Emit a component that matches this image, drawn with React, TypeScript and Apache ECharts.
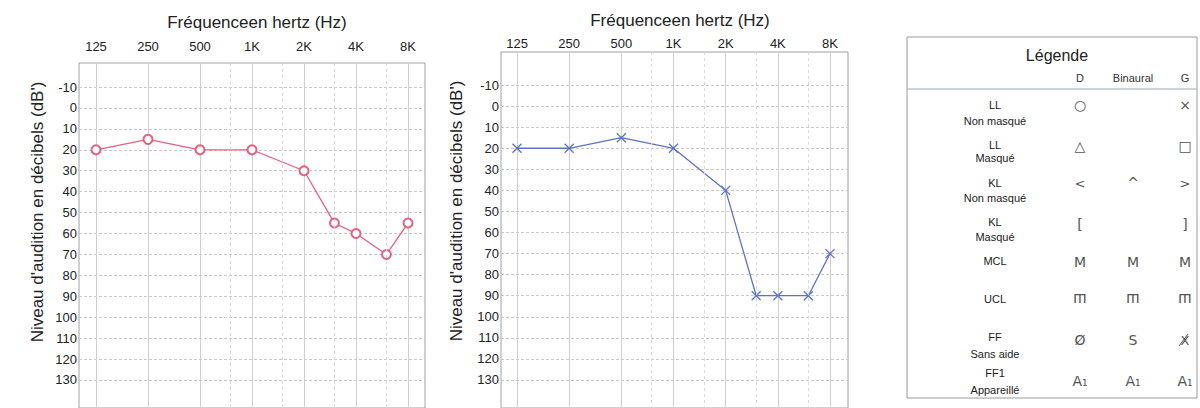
import React, { useEffect, useRef } from "react";
import * as echarts from "echarts";

// ---- data ----
const frequencies = [125, 250, 500, 1000, 2000, 3000, 4000, 6000, 8000];
const rightEarDb = [20, 15, 20, 20, 30, 55, 60, 70, 55];
const leftEarDb = [20, 20, 15, 20, 40, 90, 90, 90, 70];
const octaveFreqs = [125, 250, 500, 1000, 2000, 4000, 8000];
const octaveLabels = ["125", "250", "500", "1K", "2K", "4K", "8K"];
const midOctaveFreqs = [750, 1500, 3000, 6000];
const dbTicks = [-10, 0, 10, 20, 30, 40, 50, 60, 70, 80, 90, 100, 110, 120, 130];
const xTitle = "Fréquenceen hertz (Hz)";
const yTitle = "Niveau d'audition en décibels (dB')";
const legendTitle = "Légende";
const legendHeaders = ["D", "Binaural", "G"];
const legendRows = [
  ["LL", "Non masqué"],
  ["LL", "Masqué"],
  ["KL", "Non masqué"],
  ["KL", "Masqué"],
  ["MCL"],
  ["UCL"],
  ["FF", "Sans aide"],
  ["FF1", "Appareillé"],
];
const legendSymbols = [
  ["○", "", "×"],
  ["△", "", "□"],
  ["<", "^", ">"],
  ["[", "", "]"],
  ["M", "M", "M"],
  ["ш", "ш", "ш"],
  ["Ø", "S", "X/"],
  ["A₁", "A₁", "A₁"],
];

const FONT = "'Liberation Sans', Arial, sans-serif";
const oct = (f: number) => Math.log2(f / 125);

export default function App() {
  const ref = useRef<HTMLDivElement>(null);
  useEffect(() => {
    if (!ref.current) return;
    const chart = echarts.init(ref.current, undefined, { renderer: "svg" });

    const grids = [
      { left: 79, top: 63, width: 346, height: 345, xmin: -0.327, xmax: 6.327, ymin: -21.5, ymax: 143.4, labelMargin: 10 },
      { left: 501, top: 52, width: 347, height: 356, xmin: -0.307, xmax: 6.345, ymin: -25.7, ymax: 143.3, labelMargin: 2 },
    ];

    const xAxes = grids.map((g, i) => ({
      type: "value",
      gridIndex: i,
      position: "top",
      min: g.xmin,
      max: g.xmax,
      axisLine: { show: false },
      axisTick: { show: false, customValues: octaveFreqs.map(oct) },
      axisLabel: {
        customValues: octaveFreqs.map(oct),
        margin: g.labelMargin,
        fontSize: 13,
        color: "#222",
        fontFamily: FONT,
        formatter: (v: number) => octaveLabels[Math.round(v)],
      },
      splitLine: { show: true, lineStyle: { color: "#d3cdcd", width: 1 } },
    }));

    const yAxes = grids.map((g, i) => ({
      type: "value",
      gridIndex: i,
      inverse: true,
      min: g.ymin,
      max: g.ymax,
      axisLine: { show: false },
      axisTick: { show: false, customValues: dbTicks },
      axisLabel: {
        customValues: dbTicks,
        margin: 2,
        fontSize: 13,
        color: "#222",
        fontFamily: FONT,
      },
      splitLine: { show: true, lineStyle: { color: "#d2c4c4", width: 1, type: [3, 2] } },
    }));

    const midLines = {
      silent: true,
      symbol: ["none", "none"],
      label: { show: false },
      lineStyle: { color: "#dcd6d6", type: [3, 3], width: 1 },
      data: midOctaveFreqs.map((f) => ({ xAxis: oct(f) })),
    };

    const series = [
      {
        type: "line",
        xAxisIndex: 0,
        yAxisIndex: 0,
        data: frequencies.map((f, i) => [oct(f), rightEarDb[i]]),
        symbol: "emptyCircle",
        symbolSize: 9,
        lineStyle: { color: "#e4627e", width: 1.3 },
        itemStyle: { color: "#e4627e", borderWidth: 1.2 },
        markLine: midLines,
      },
      {
        type: "line",
        xAxisIndex: 1,
        yAxisIndex: 1,
        data: frequencies.map((f, i) => [oct(f), leftEarDb[i]]),
        symbol: "path://M0,0L10,10M10,0L0,10",
        symbolSize: 9,
        lineStyle: { color: "#5b74c9", width: 1.3 },
        itemStyle: { color: "#5b74c9", borderColor: "#5b74c9", borderWidth: 1.3 },
        markLine: midLines,
      },
    ];

    const graphic: any[] = [];
    const titlePos = [
      { x: 257, y: 22 },
      { x: 680, y: 20 },
    ];
    titlePos.forEach((p) =>
      graphic.push({
        type: "text",
        x: p.x,
        y: p.y,
        style: { text: xTitle, font: `17px ${FONT}`, fill: "#222", align: "center", verticalAlign: "middle" },
      })
    );
    const yTitlePos = [
      { x: 37, y: 212 },
      { x: 456, y: 211 },
    ];
    yTitlePos.forEach((p) =>
      graphic.push({
        type: "text",
        x: p.x,
        y: p.y,
        rotation: Math.PI / 2,
        style: { text: yTitle, font: `17px ${FONT}`, fill: "#222", align: "center", verticalAlign: "middle" },
      })
    );

    // legend box
    graphic.push({
      type: "rect",
      shape: { x: 907, y: 37, width: 290, height: 361 },
      style: { fill: "#fff", stroke: "#9a9a9a", lineWidth: 1 },
    });
    graphic.push({
      type: "line",
      shape: { x1: 907, y1: 89, x2: 1197, y2: 89 },
      style: { stroke: "#9aa8b4", lineWidth: 1 },
    });
    graphic.push({
      type: "text",
      x: 1057,
      y: 55,
      style: { text: legendTitle, font: `16px ${FONT}`, fill: "#222", align: "center", verticalAlign: "middle" },
    });
    const colX = [1080, 1133, 1185];
    legendHeaders.forEach((h, i) =>
      graphic.push({
        type: "text",
        x: colX[i],
        y: 78,
        style: { text: h, font: `11px ${FONT}`, fill: "#333", align: "center", verticalAlign: "middle" },
      })
    );
    const rowLabelY = [
      [105, 121],
      [145, 158],
      [183, 198],
      [222, 237],
      [261],
      [299],
      [337, 354],
      [373, 390],
    ];
    const rowSymY = [105, 146, 183, 224, 262, 299, 340, 381];
    const symText = (s: string, x: number, y: number, rotation = 0, size = 14) => ({
      type: "text",
      x,
      y,
      rotation,
      style: {
        text: s,
        font: `${size}px 'DejaVu Sans', ${FONT}`,
        fill: "#555",
        align: "center",
        verticalAlign: "middle",
      },
    });
    legendRows.forEach((row, r) => {
      row.forEach((line, k) =>
        graphic.push({
          type: "text",
          x: 995,
          y: rowLabelY[r][k],
          style: { text: line, font: `11px ${FONT}`, fill: "#222", align: "center", verticalAlign: "middle" },
        })
      );
      legendSymbols[r].forEach((s, c) => {
        if (!s) return;
        const x = colX[c];
        const y = rowSymY[r];
        if (s === "ш") {
          graphic.push(symText(s, x, y, Math.PI, 15));
        } else if (s === "X/") {
          graphic.push(symText("X", x, y, 0, 13));
          graphic.push({
            type: "line",
            shape: { x1: x - 6, y1: y + 6, x2: x + 3, y2: y - 6 },
            style: { stroke: "#555", lineWidth: 1 },
          });
        } else if (s === "<" || s === ">") {
          graphic.push(symText(s, x, y, 0, 13));
        } else {
          graphic.push(symText(s, x, y));
        }
      });
    });

    chart.setOption({
      animation: false,
      backgroundColor: "#fff",
      grid: grids.map((g) => ({
        left: g.left,
        top: g.top,
        width: g.width,
        height: g.height,
        show: true,
        borderColor: "#a0a0a0",
        borderWidth: 1,
        backgroundColor: "transparent",
      })),
      xAxis: xAxes,
      yAxis: yAxes,
      series,
      graphic,
    } as any);

    return () => chart.dispose();
  }, []);

  return (
    <div
      ref={ref}
      style={{ position: "fixed", left: 0, top: 0, width: 1200, height: 408, background: "#fff" }}
    />
  );
}
